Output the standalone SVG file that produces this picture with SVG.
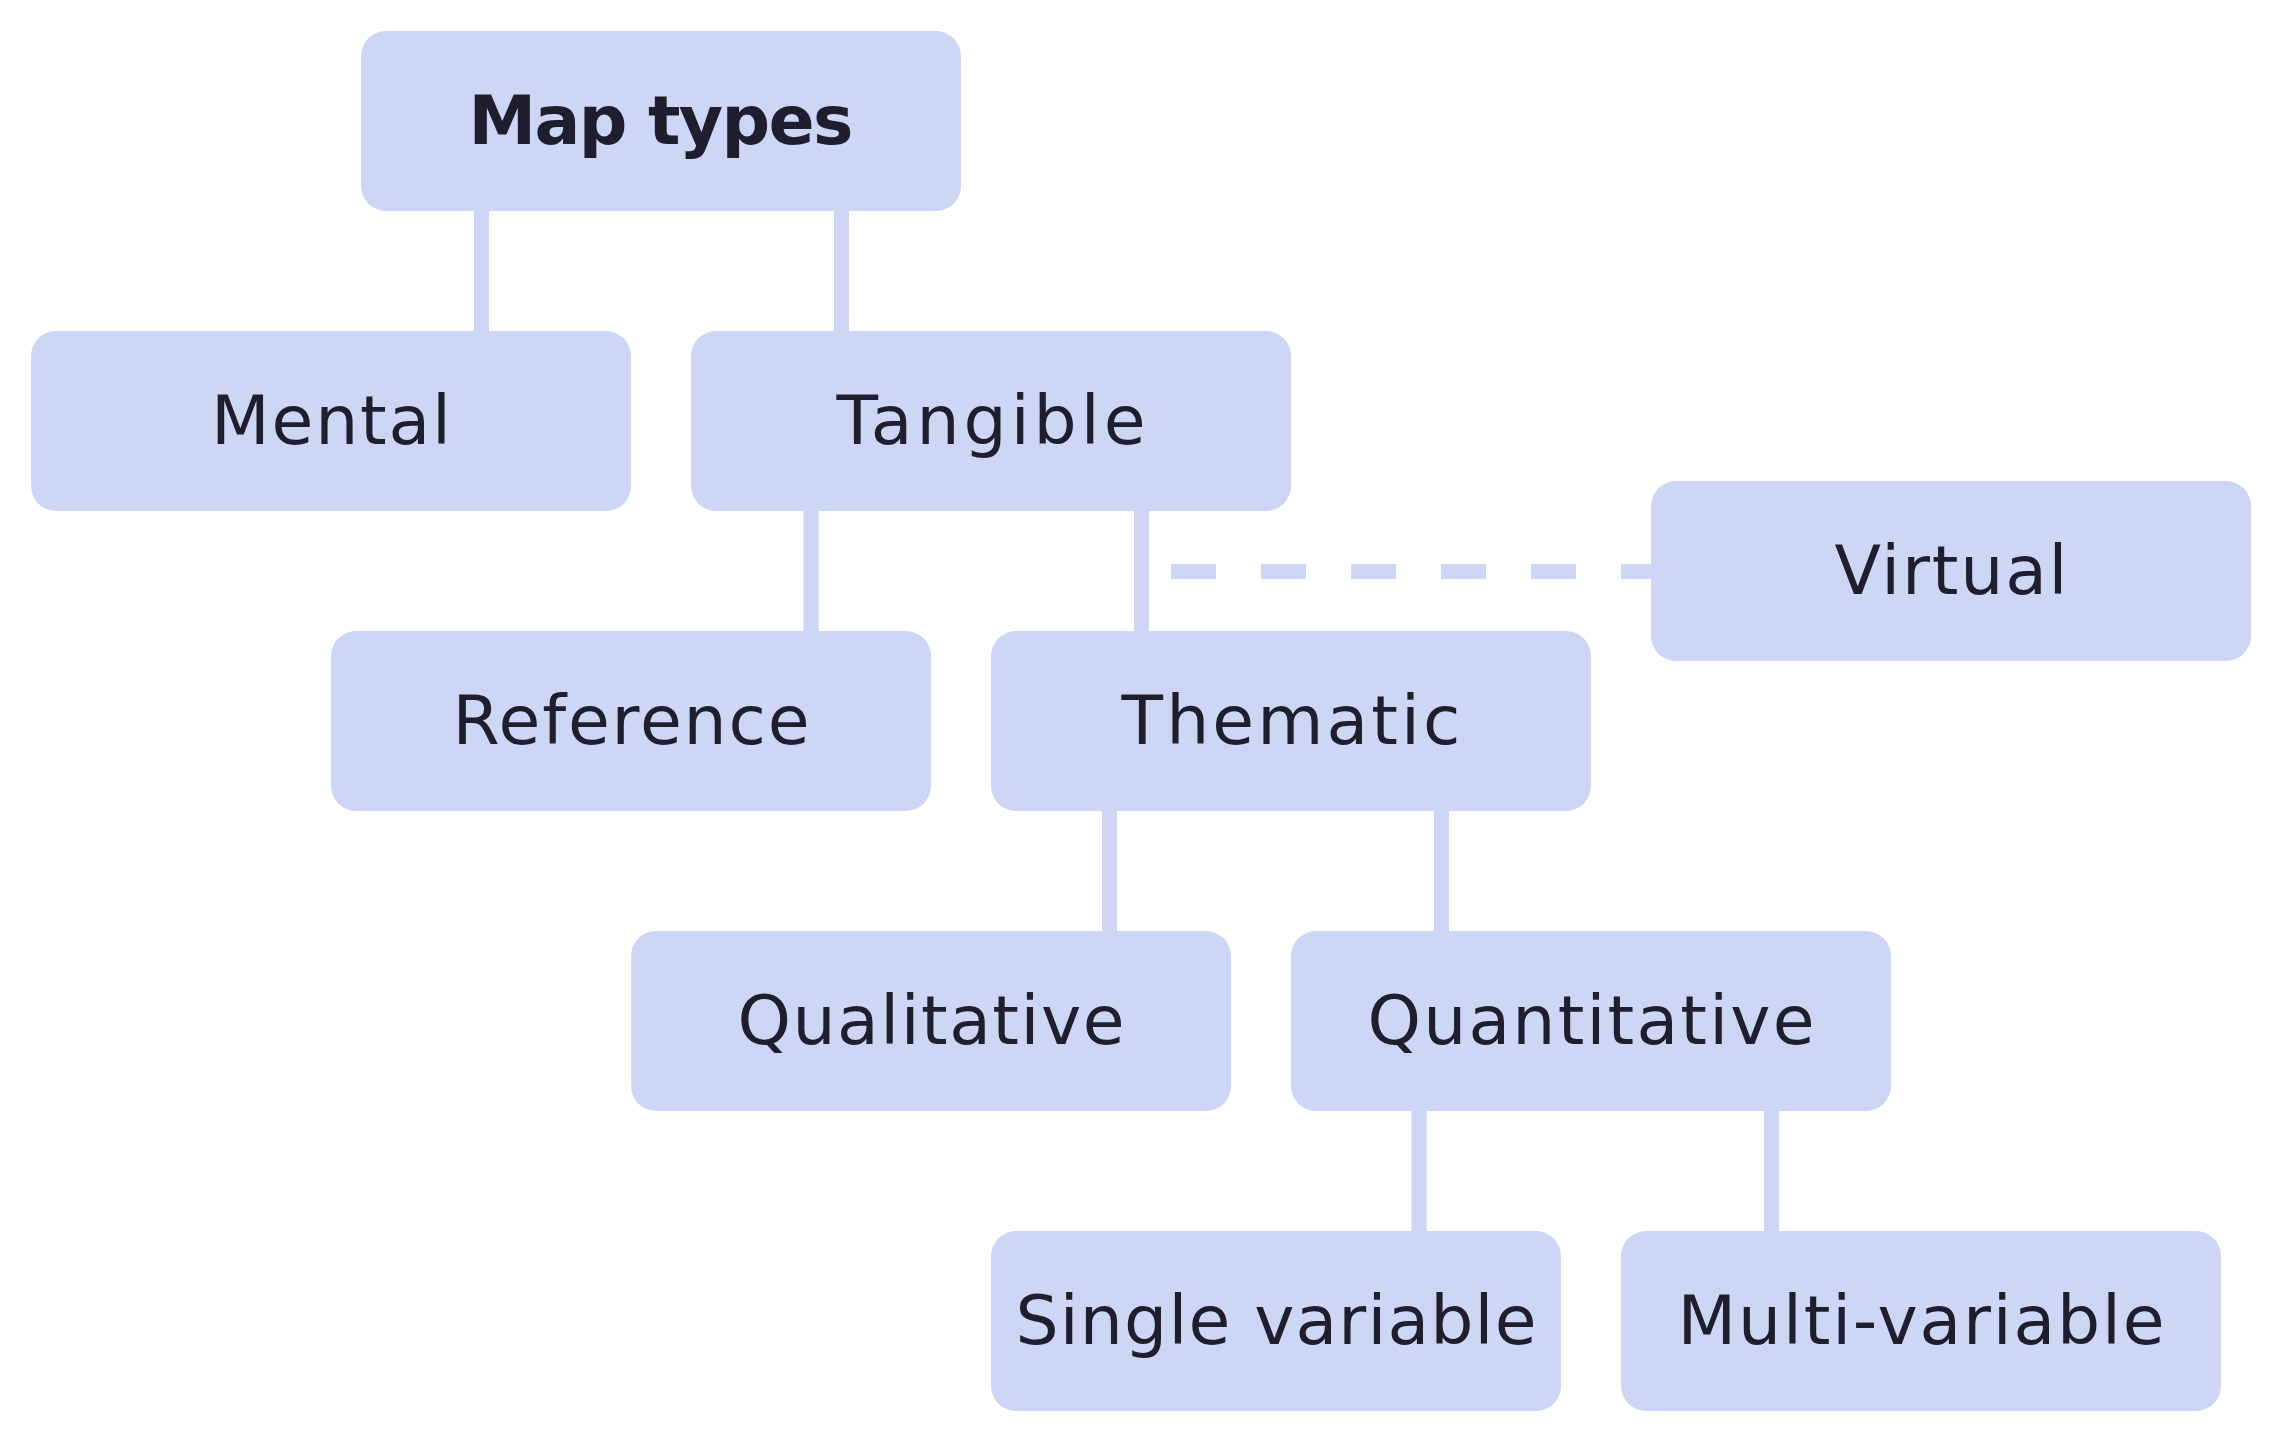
<svg xmlns="http://www.w3.org/2000/svg" width="2280" height="1440" viewBox="0 0 2280 1440">
  <style>
    .node rect { fill: #cdd6f4; }
    .node text { font-family: "DejaVu Sans", "Liberation Sans", sans-serif; font-size: 68px; fill: #1e1e2e; text-anchor: middle; }
    .node text.root { font-weight: bold; }
    .edge { stroke: #cdd6f4; stroke-width: 15; fill: none; }
    .dashed { stroke-dasharray: 45 45; }
  </style>
  <rect width="2280" height="1440" fill="#ffffff"/>
  <g id="connectors">
    <line class="edge" x1="481.5" y1="205" x2="481.5" y2="337"/>
    <line class="edge" x1="841.5" y1="205" x2="841.5" y2="337"/>
    <line class="edge" x1="811" y1="505" x2="811" y2="637"/>
    <line class="edge" x1="1141.5" y1="505" x2="1141.5" y2="637"/>
    <line class="edge dashed" x1="1171" y1="571.5" x2="1655" y2="571.5"/>
    <line class="edge" x1="1109.5" y1="805" x2="1109.5" y2="937"/>
    <line class="edge" x1="1441.5" y1="805" x2="1441.5" y2="937"/>
    <line class="edge" x1="1419" y1="1105" x2="1419" y2="1237"/>
    <line class="edge" x1="1771.5" y1="1105" x2="1771.5" y2="1237"/>
  </g>
  <g id="node-map-types" class="node">
    <rect x="361" y="31" width="600" height="180" rx="25"/>
    <text class="root" x="661" y="144" textLength="385">Map types</text>
  </g>
  <g id="node-mental" class="node">
    <rect x="31" y="331" width="600" height="180" rx="25"/>
    <text x="331" y="444" textLength="240">Mental</text>
  </g>
  <g id="node-tangible" class="node">
    <rect x="691" y="331" width="600" height="180" rx="25"/>
    <text x="991" y="444" textLength="309">Tangible</text>
  </g>
  <g id="node-virtual" class="node">
    <rect x="1651" y="481" width="600" height="180" rx="25"/>
    <text x="1951" y="594" textLength="233">Virtual</text>
  </g>
  <g id="node-reference" class="node">
    <rect x="331" y="631" width="600" height="180" rx="25"/>
    <text x="631" y="744" textLength="357">Reference</text>
  </g>
  <g id="node-thematic" class="node">
    <rect x="991" y="631" width="600" height="180" rx="25"/>
    <text x="1291" y="744" textLength="339">Thematic</text>
  </g>
  <g id="node-qualitative" class="node">
    <rect x="631" y="931" width="600" height="180" rx="25"/>
    <text x="931" y="1044" textLength="387">Qualitative</text>
  </g>
  <g id="node-quantitative" class="node">
    <rect x="1291" y="931" width="600" height="180" rx="25"/>
    <text x="1591" y="1044" textLength="447">Quantitative</text>
  </g>
  <g id="node-single-variable" class="node">
    <rect x="991" y="1231" width="570" height="180" rx="25"/>
    <text x="1276" y="1344" textLength="521">Single variable</text>
  </g>
  <g id="node-multi-variable" class="node">
    <rect x="1621" y="1231" width="600" height="180" rx="25"/>
    <text x="1921" y="1344" textLength="487">Multi-variable</text>
  </g>
</svg>
